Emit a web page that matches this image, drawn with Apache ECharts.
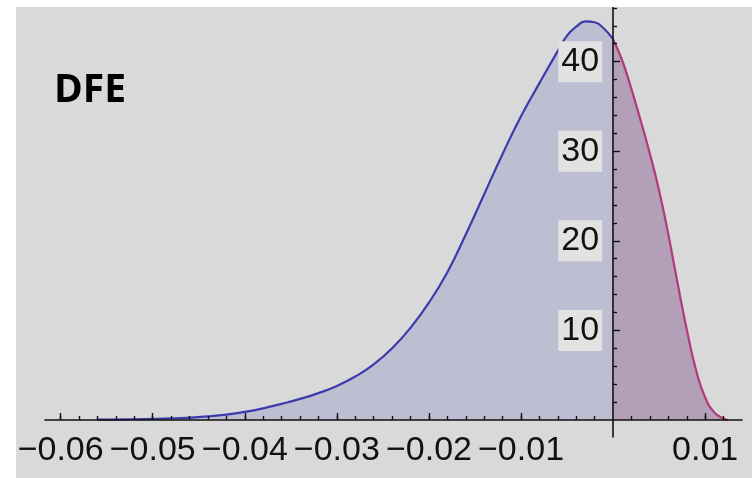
<!DOCTYPE html>
<html>
<head>
<meta charset="utf-8">
<title>DFE</title>
<script src="https://cdn.jsdelivr.net/npm/echarts@6/dist/echarts.min.js"></script>
<style>
  html, body { margin: 0; padding: 0; background: #ffffff; }
  body { width: 752px; height: 478px; position: relative; overflow: hidden; }
  #chart { position: absolute; left: 16px; top: 7px; width: 736px; height: 471px; }
</style>
</head>
<body>
<div id="chart"></div>
<script>
// Distribution of fitness effects: density over selection coefficient s
const negS = [-0.056, -0.054, -0.052, -0.050, -0.048, -0.046, -0.044, -0.042, -0.040,
              -0.038, -0.036, -0.034, -0.032, -0.030, -0.028, -0.026, -0.024, -0.022,
              -0.020, -0.018, -0.016, -0.014, -0.012, -0.010, -0.008, -0.006, -0.005,
              -0.004, -0.003, -0.002, -0.001, 0];
const negDensity = [0.03, 0.05, 0.08, 0.12, 0.18, 0.27, 0.40, 0.60, 0.90,
                    1.30, 1.80, 2.35, 3.0, 3.8, 4.85, 6.2, 8.0, 10.3,
                    13.1, 16.5, 20.7, 25.2, 29.7, 33.9, 37.6, 41.2, 42.9,
                    43.9, 44.5, 44.4, 43.7, 42.5];
const posS = [0, 0.001, 0.002, 0.003, 0.004, 0.005, 0.006, 0.007, 0.008, 0.009,
              0.010, 0.011, 0.012, 0.0125];
const posDensity = [42.5, 40.1, 36.9, 33.4, 29.7, 25.6, 20.7, 15.3, 10.1, 5.6,
                    2.5, 0.85, 0.15, 0];

// Axis ticks and labels
const xLabels = [-0.06, -0.05, -0.04, -0.03, -0.02, -0.01, 0.01];
const xMajorTicks = [-0.06, -0.05, -0.04, -0.03, -0.02, -0.01, 0.01];
const xMinorTicks = [-0.06, -0.058, -0.056, -0.054, -0.052, -0.05, -0.048, -0.046, -0.044, -0.042,
                     -0.04, -0.038, -0.036, -0.034, -0.032, -0.03, -0.028, -0.026, -0.024, -0.022,
                     -0.02, -0.018, -0.016, -0.014, -0.012, -0.01, -0.008, -0.006, -0.004, -0.002,
                     0.002, 0.004, 0.006, 0.008, 0.01, 0.012];
const yLabels = [10, 20, 30, 40];
const yMajorTicks = [10, 20, 30, 40];
const yMinorTicks = [2, 4, 6, 8, 12, 14, 16, 18, 22, 24, 26, 28, 32, 34, 36, 38, 42, 44, 46];

const xMin = -0.0617, xMax = 0.014;
const yMin = -1.9, yMax = 46.1;

const GRID = { left: 29, right: 10, top: 0, bottom: 41 };
const W = 736, H = 471;

const tickFont = "'Liberation Sans', Arimo, Arial, sans-serif";
const axisColor = '#111111';

function fmtX(v) {
  return (v < 0 ? '\u2212' : '') + Math.abs(v).toFixed(2);
}

function pairs(xs, ys) {
  return xs.map((x, i) => [x, ys[i]]);
}

function xAxisDef(ticks, len, withLine, withLabels) {
  return {
    type: 'value',
    min: xMin, max: xMax,
    position: 'bottom',
    offset: 0,
    z: 5,
    axisLine: { show: withLine, onZero: false, lineStyle: { color: axisColor, width: 1.6 } },
    axisTick: { show: true, inside: true, length: len, customValues: ticks,
                lineStyle: { color: axisColor, width: 1.4 } },
    axisLabel: withLabels
      ? { show: true, customValues: xLabels, formatter: fmtX, margin: 14,
          color: '#111111', fontFamily: tickFont, fontSize: 34 }
      : { show: false },
    splitLine: { show: false }
  };
}

function yAxisDef(ticks, len, withLine, withLabels) {
  return {
    type: 'value',
    min: yMin, max: yMax,
    position: 'left',
    offset: 0,
    z: 5,
    axisLine: { show: withLine, onZero: false, lineStyle: { color: axisColor, width: 1.6 } },
    axisTick: { show: true, inside: true, length: len, customValues: ticks,
                lineStyle: { color: axisColor, width: 1.4 } },
    axisLabel: withLabels
      ? { show: true, customValues: yLabels, margin: 11,
          color: '#111111', fontFamily: tickFont, fontSize: 34,
          backgroundColor: '#e2e2e2', padding: [4, 3, 3, 3] }
      : { show: false },
    splitLine: { show: false }
  };
}

const chart = echarts.init(document.getElementById('chart'), null, { renderer: 'canvas' });

chart.setOption({
  backgroundColor: '#d9d9d9',
  animation: false,
  grid: Object.assign({ containLabel: false, outerBoundsMode: 'none' }, GRID),
  graphic: [{
    type: 'text',
    left: 38,
    top: 64,
    style: {
      text: 'DFE',
      fill: '#000000',
      font: "bold 39px 'Open Sans', 'Noto Sans', sans-serif"
    }
  }],
  xAxis: [xAxisDef(xMajorTicks, 7, true, true), xAxisDef(xMinorTicks, 4, false, false)],
  yAxis: [yAxisDef(yMajorTicks, 7, true, true), yAxisDef(yMinorTicks, 4, false, false)],
  series: [{
    name: 'deleterious',
    type: 'line',
    xAxisIndex: 0, yAxisIndex: 0,
    data: pairs(negS, negDensity),
    smooth: 0.5,
    showSymbol: false,
    lineStyle: { color: '#3b3bab', width: 2.2 },
    areaStyle: { color: '#bebed3', opacity: 1 },
    z: 2
  }, {
    name: 'beneficial',
    type: 'line',
    xAxisIndex: 0, yAxisIndex: 0,
    data: pairs(posS, posDensity),
    smooth: 0.5,
    showSymbol: false,
    lineStyle: { color: '#b03a7a', width: 2.2 },
    areaStyle: { color: '#b3a0b8', opacity: 1 },
    z: 2
  }]
});

// Move both axes so they cross at the origin (s = 0, density = 0)
const origin = chart.convertToPixel({ gridIndex: 0 }, [0, 0]);
const yOff = -(origin[0] - GRID.left);
const xOff = -((H - GRID.bottom) - origin[1]);
chart.setOption({
  xAxis: [{ offset: xOff }, { offset: xOff }],
  yAxis: [{ offset: yOff }, { offset: yOff }]
});
</script>
</body>
</html>
